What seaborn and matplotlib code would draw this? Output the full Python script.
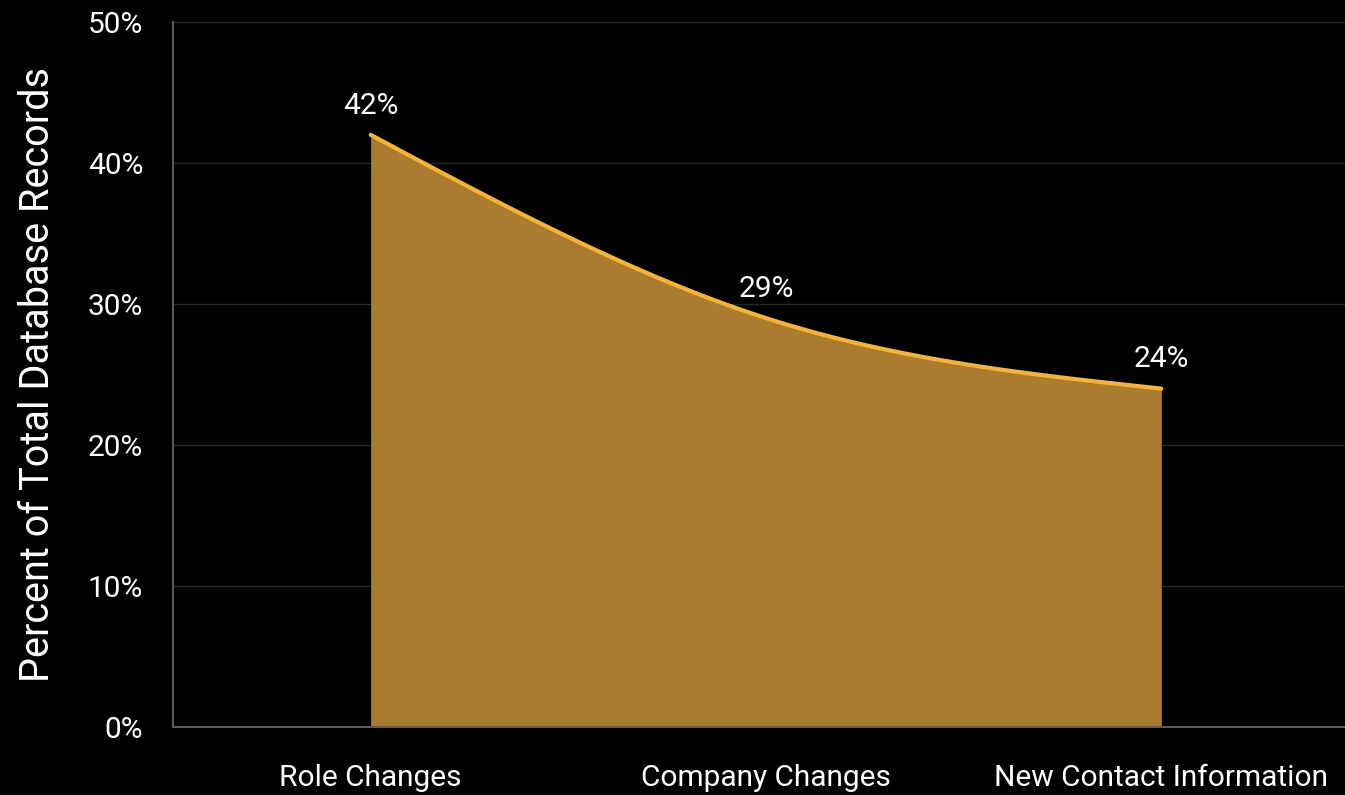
import numpy as np
import pandas as pd
import matplotlib
matplotlib.use("Agg")
import matplotlib.pyplot as plt
import seaborn as sns

categories = ["Role Changes", "Company Changes", "New Contact Information"]
values = [42, 29, 24]
value_labels = ["42%", "29%", "24%"]
y_ticks = [0, 10, 20, 30, 40, 50]
y_tick_labels = ["0%", "10%", "20%", "30%", "40%", "50%"]
y_title = "Percent of Total Database Records"


def monotone_curve(xs, ys, n=60):
    """d3 curveMonotoneX rendering of the line between data points."""
    xs = np.asarray(xs, float)
    ys = np.asarray(ys, float)
    h = np.diff(xs)
    s = np.diff(ys) / h
    t = np.zeros_like(ys)
    for i in range(1, len(ys) - 1):
        p = (s[i - 1] * h[i] + s[i] * h[i - 1]) / (h[i - 1] + h[i])
        t[i] = (np.sign(s[i - 1]) + np.sign(s[i])) * min(abs(s[i - 1]), abs(s[i]), 0.5 * abs(p))
    t[0] = (3 * s[0] - t[1]) / 2
    t[-1] = (3 * s[-1] - t[-2]) / 2
    cx, cy = [], []
    for i in range(len(xs) - 1):
        dx = h[i] / 3
        P0 = np.array([xs[i], ys[i]])
        P1 = np.array([xs[i] + dx, ys[i] + dx * t[i]])
        P2 = np.array([xs[i + 1] - dx, ys[i + 1] - dx * t[i + 1]])
        P3 = np.array([xs[i + 1], ys[i + 1]])
        u = np.linspace(0, 1, n)[:, None]
        B = (1 - u) ** 3 * P0 + 3 * (1 - u) ** 2 * u * P1 + 3 * (1 - u) * u ** 2 * P2 + u ** 3 * P3
        if i > 0:
            B = B[1:]
        cx.extend(B[:, 0]); cy.extend(B[:, 1])
    return np.array(cx), np.array(cy)


sns.set_theme(style="dark")
plt.rcParams["font.family"] = ["Roboto", "DejaVu Sans"]

fig = plt.figure(figsize=(13.45, 7.95), dpi=100, facecolor="black")
W, H = 1345, 795
ax = fig.add_axes([173 / W, 68 / H, 1186 / W, 705 / H])
ax.set_facecolor("black")

xpos = np.arange(len(categories))
cx, cy = monotone_curve(xpos, values)
curve = pd.DataFrame({"x": cx, "y": cy})

ax.fill_between(cx, 0, cy, color="#A97C30", linewidth=0, zorder=2)
sns.lineplot(data=curve, x="x", y="y", ax=ax, color="#F7B334", linewidth=3, zorder=3, sort=False)

for x, v, lab in zip(xpos, values, value_labels):
    ax.annotate(lab, (x, v), xytext=(0, 11), textcoords="offset points",
                ha="center", va="bottom", color="white", fontsize=21.5)

ax.set_xlim(-0.5, 2.5)
ax.set_ylim(0, 50)
ax.set_xticks(xpos)
ax.set_xticklabels(categories, color="white", fontsize=21.5)
ax.set_yticks(y_ticks)
ax.set_yticklabels(y_tick_labels, color="white", fontsize=21.5)
ax.tick_params(axis="both", length=0)
ax.tick_params(axis="x", pad=26.5)
ax.tick_params(axis="y", pad=21.5)
ax.set_xlabel("")
ax.set_ylabel(y_title, color="white", fontsize=28.5, labelpad=22)

ax.grid(axis="y", color="#262626", linewidth=1)
ax.grid(axis="x", visible=False)
for side in ["top", "right"]:
    ax.spines[side].set_visible(False)
for side in ["left", "bottom"]:
    ax.spines[side].set_visible(True)
    ax.spines[side].set_color("#5a5a5a")
    ax.spines[side].set_linewidth(1.5)

fig.savefig("out.png", dpi=100, facecolor="black")
